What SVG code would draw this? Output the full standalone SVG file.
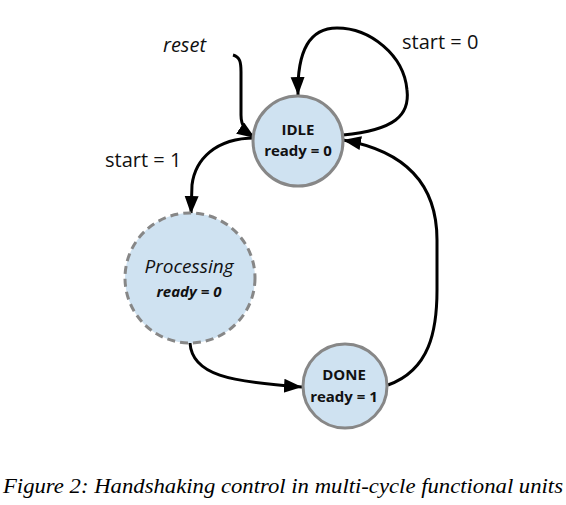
<svg xmlns="http://www.w3.org/2000/svg" width="566" height="505" viewBox="0 0 566 505">
<style>
.state{fill:#cfe2f1;stroke:#878787;stroke-width:3}
.dashed{stroke-dasharray:8 5}
.lbl{font-family:"Open Sans","DejaVu Sans",sans-serif;fill:#111}
.b{font-weight:bold;font-size:15px}
.edge{fill:none;stroke:#000;stroke-width:3}
.cap{font-family:"Liberation Serif","Times New Roman",serif;font-style:italic;font-size:20px;fill:#000}
</style>
<defs>
<marker id="ah" markerUnits="userSpaceOnUse" markerWidth="20" markerHeight="16" refX="18" refY="7" orient="auto">
<path d="M0,0 L18,7 L0,14 z" fill="#000"/>
</marker>
</defs>
<rect width="566" height="505" fill="#fff"/>
<g id="connectors">
<path class="edge" d="M233,55 C240,57 241,62 241,72 L241,115 C241,126 246,132 255,138" marker-end="url(#ah)"/>
<path class="edge" d="M343,135 C395,130 410,115 407,90 C404,55 370,28 337,28 C310,28 297,50 298,95" marker-end="url(#ah)"/>
<path class="edge" d="M255,138 C215,138 195,160 192,185 L191,214" marker-end="url(#ah)"/>
<path class="edge" d="M190,343 C192,375 230,382 302,387" marker-end="url(#ah)"/>
<path class="edge" d="M388,385 C430,370 437,330 437,290 L437,240 C437,180 400,150 343,140" marker-end="url(#ah)"/>
</g>
<g id="labels">
<text class="lbl" x="163" y="52" font-size="20" font-style="italic">reset</text>
<text class="lbl" x="402" y="49" font-size="20">start = 0</text>
<text class="lbl" x="105" y="167" font-size="20">start = 1</text>
</g>
<g id="idle">
<circle class="state" cx="298" cy="141" r="45"/>
<text class="lbl b" x="298" y="135" text-anchor="middle">IDLE</text>
<text class="lbl b" x="298" y="156" text-anchor="middle">ready = 0</text>
</g>
<g id="processing">
<circle class="state dashed" cx="190" cy="278" r="65"/>
<text class="lbl" x="189" y="273" font-size="19" font-style="italic" text-anchor="middle">Processing</text>
<text class="lbl b" x="189" y="297" font-style="italic" text-anchor="middle">ready = 0</text>
</g>
<g id="done">
<circle class="state" cx="345" cy="386" r="42"/>
<text class="lbl b" x="344" y="380" text-anchor="middle">DONE</text>
<text class="lbl b" x="344" y="402" text-anchor="middle">ready = 1</text>
</g>
<text class="cap" x="3" y="493" textLength="560" lengthAdjust="spacingAndGlyphs">Figure 2: Handshaking control in multi-cycle functional units</text>
</svg>
